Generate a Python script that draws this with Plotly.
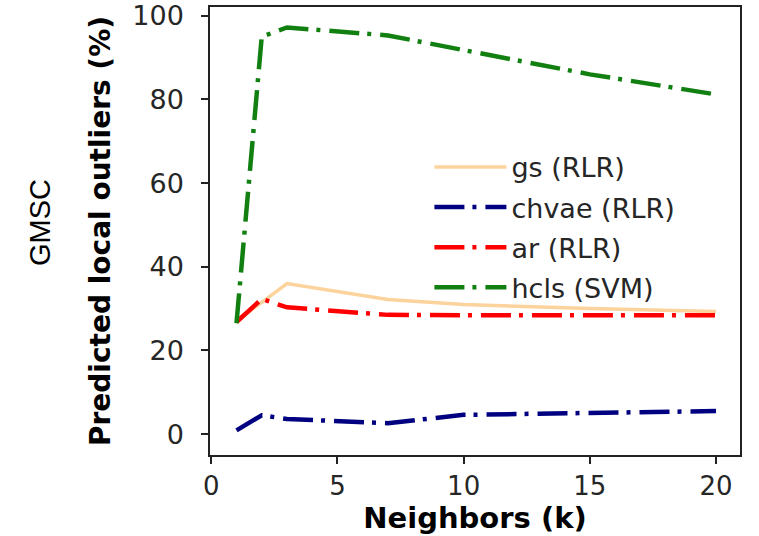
import plotly.graph_objects as go

neighbors = [1, 2, 3, 7, 10, 15, 20]
gs_rlr = [27.0, 31.5, 36.0, 32.2, 31.0, 30.0, 29.3]
chvae_rlr = [0.9, 4.5, 3.6, 2.6, 4.6, 5.0, 5.5]
ar_rlr = [26.8, 32.3, 30.3, 28.5, 28.4, 28.4, 28.4]
hcls_svm = [26.5, 95.0, 97.2, 95.3, 91.8, 86.0, 81.2]

series_names = ["gs (RLR)", "chvae (RLR)", "ar (RLR)", "hcls (SVM)"]
series_values = [gs_rlr, chvae_rlr, ar_rlr, hcls_svm]
colors = ["#FCD39C", "#000080", "#FF0000", "#118011"]
dashes = ["solid", "30px,8px,4px,9px", "30px,8px,4px,9px", "30px,8px,4px,9px"]
widths = [3.5, 4.5, 4.5, 4.5]

fig = go.Figure()
for i, (name, vals, c, d, w) in enumerate(zip(series_names, series_values, colors, dashes, widths)):
    fig.add_trace(go.Scatter(x=neighbors, y=vals, mode="lines", name=name,
                             legendgroup=f"g{i}",
                             line=dict(color=c, width=w, dash=d)))

tickfont = dict(family="DejaVu Sans", size=27, color="#262626")
fig.update_layout(
    width=759, height=536,
    margin=dict(l=210, r=19, t=7, b=81),
    paper_bgcolor="white", plot_bgcolor="white",
    showlegend=True,
    legend=dict(x=0.414, y=0.508, xanchor="left", yanchor="middle",
                font=dict(family="DejaVu Sans", size=27, color="#262626"),
                bgcolor="rgba(255,255,255,0)", borderwidth=0,
                itemwidth=72, tracegroupgap=2),
    xaxis=dict(range=[-0.05, 20.95], tickvals=[0, 5, 10, 15, 20],
               automargin=False,
               showgrid=False, zeroline=False, showline=True, linecolor="#222",
               linewidth=1.5, mirror=True, ticks="outside", ticklen=7,
               tickwidth=1.5, tickcolor="#222",
               tickfont=dict(family="DejaVu Sans", size=26, color="#262626"),
               title=dict(text="<b>Neighbors (k)</b>", standoff=6,
                          font=dict(family="DejaVu Sans", size=29, color="black"))),
    yaxis=dict(range=[-5.0, 102.1], tickvals=[0, 20, 40, 60, 80, 100],
               automargin=False,
               showgrid=False, zeroline=False, showline=True, linecolor="#222",
               linewidth=1.5, mirror=True, ticks="outside", ticklen=7,
               tickwidth=1.5, tickcolor="#222", tickfont=tickfont,
               ticklabelstandoff=12,
               title=dict(text="<b>Predicted local outliers (%)</b>", standoff=14,
                          font=dict(family="DejaVu Sans", size=28, color="black"))),
)
fig.add_annotation(text="GMSC", xref="paper", yref="paper",
                   x=(40 - 210) / 530, y=(455 - 223) / 448, textangle=-90,
                   showarrow=False, xanchor="center", yanchor="middle",
                   font=dict(family="Liberation Sans", size=29, color="black"))

fig.write_html("out.html")
